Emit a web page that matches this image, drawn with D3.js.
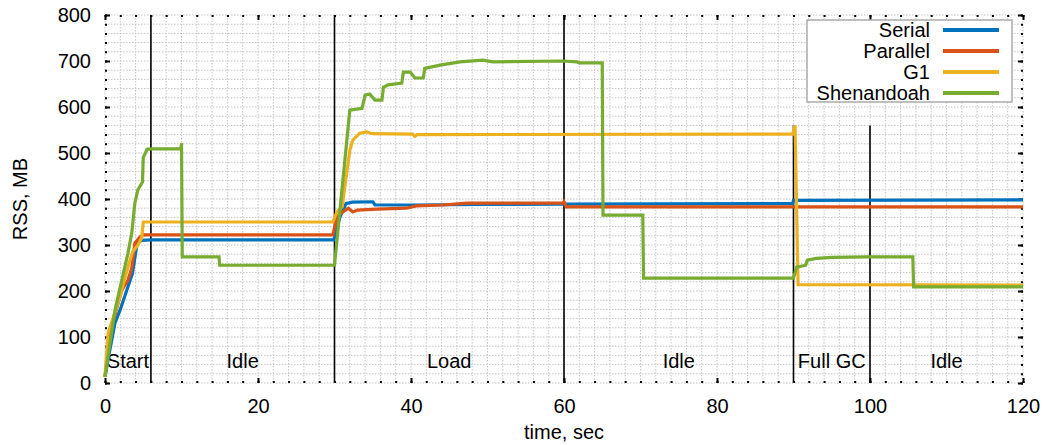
<!DOCTYPE html>
<html>
<head>
<meta charset="utf-8">
<script src="https://cdn.jsdelivr.net/npm/d3@7"></script>
<style>
  body { margin: 0; background: #fff; }
  svg text { font-family: "Liberation Sans", Arial, sans-serif; fill: #000; }
</style>
</head>
<body>
<svg id="chart" width="1046" height="445"></svg>
<script>
// series values: [time sec, RSS MB]
const serial = [
  [0, 14], [0.5, 60], [1.3, 130], [2, 160], [3, 209], [3.6, 239],
  [4.2, 304], [4.8, 310], [6, 311], [20, 311], [29.9, 311],
  [30.7, 360], [31.5, 390], [32.3, 393], [35, 394], [35.3, 387], [40, 387],
  [50, 388], [60, 389], [89.9, 390], [90, 397], [120, 398]
];
const parallel = [
  [0, 14], [0.65, 108], [1.5, 160], [2.2, 202], [3, 224], [3.5, 250],
  [3.9, 304], [4.6, 318], [5, 322], [20, 322], [29.8, 322], [30.3, 361],
  [31.1, 372], [31.8, 380], [32.4, 372], [33, 376], [35.5, 378], [39.4, 380],
  [40.7, 385], [44.2, 387], [47.3, 391], [59.9, 391], [60, 394], [60.3, 383],
  [120, 383]
];
const g1 = [
  [0, 14], [0.4, 108], [1.7, 174], [3, 252], [3.6, 285], [4.3, 300],
  [4.8, 315], [5, 350], [29.8, 350], [30.3, 372], [31, 383],
  [32, 506], [32.4, 528], [33.3, 543], [34.2, 546], [34.9, 542], [40.2, 541],
  [40.5, 536], [40.8, 540], [89.9, 541], [90.2, 560], [90.6, 214], [120, 213]
];
const shenandoah = [
  [0, 13], [1.3, 158], [3, 282], [3.5, 326], [3.9, 391], [4.3, 420],
  [4.9, 437], [5, 490], [5.5, 508], [6, 509], [9.9, 509], [10, 521],
  [10.1, 274], [14.9, 274], [15, 256], [30, 256], [32, 593], [33.6, 597],
  [34, 626], [34.6, 628], [35.3, 615], [36.2, 615], [36.4, 643], [37, 648],
  [38.8, 652], [39, 676], [39.9, 676], [40.5, 663], [41.6, 663], [41.8, 684],
  [43.8, 691], [46.4, 698], [49.4, 702], [50.7, 698], [59.9, 700], [61.7, 698],
  [62, 696], [65, 696], [65.1, 365], [70.3, 365], [70.4, 228], [90, 228],
  [90.4, 252], [91.6, 256], [91.8, 267], [93, 271], [95, 273], [99.6, 274],
  [105.6, 274], [105.7, 209], [120, 209]
];

const seriesNames = ["Serial", "Parallel", "G1", "Shenandoah"];
const seriesColors = ["#0072BD", "#D95319", "#EDB120", "#77AC30"];
const allSeries = [serial, parallel, g1, shenandoah];

// phase markers
const phaseBounds = [6, 30, 60, 90, 100];
const phaseTops = [800, 800, 800, 560, 560];
const phaseEdges = [0, 6, 30, 60, 90, 100, 120];
const phaseNames = ["Start", "Idle", "Load", "Idle", "Full GC", "Idle"];

const xTicks = [0, 20, 40, 60, 80, 100, 120];
const yTicks = [0, 100, 200, 300, 400, 500, 600, 700, 800];

const svg = d3.select("#chart");
const margin = { top: 15, right: 23, bottom: 62, left: 105 },
  width = 1046 - margin.left - margin.right,
  height = 445 - margin.top - margin.bottom;

const x = d3.scaleLinear().domain([0, 120]).range([0, width]);
const y = d3.scaleLinear().domain([0, 800]).range([height, 0]);

const g = svg.append("g")
  .attr("transform", "translate(" + margin.left + "," + margin.top + ")");

// grid (minor every 2 sec / 20 MB)
const xMinor = d3.range(0, 121, 2);
const yMinor = d3.range(0, 801, 20);

g.append("g").attr("class", "grid")
  .selectAll("line.gx")
  .data(xMinor)
  .enter()
  .append("line")
  .attr("x1", d => x(d)).attr("x2", d => x(d))
  .attr("y1", 0).attr("y2", height)
  .attr("stroke", "#c4c4c4")
  .attr("stroke-width", 1)
  .attr("stroke-dasharray", "1.5,1.5");

g.append("g").attr("class", "grid")
  .selectAll("line.gy")
  .data(yMinor)
  .enter()
  .append("line")
  .attr("x1", 0).attr("x2", width)
  .attr("y1", d => y(d)).attr("y2", d => y(d))
  .attr("stroke", "#c4c4c4")
  .attr("stroke-width", 1)
  .attr("stroke-dasharray", "1.5,1.5");

// ticks on all four sides, inward
function tickAxis(axisFn, scale, values, size, translate, labels) {
  const ax = axisFn(scale).tickValues(values).tickSizeInner(-size).tickSizeOuter(0);
  if (!labels) ax.tickFormat("");
  const sel = g.append("g").attr("transform", translate).call(ax);
  sel.select(".domain").remove();
  sel.selectAll(".tick line").attr("stroke", "#000").attr("stroke-width", 2);
  sel.selectAll("text").style("font-size", "20px")
    .style("font-family", "'Liberation Sans', Arial, sans-serif");
  return sel;
}

tickAxis(d3.axisBottom, x, xMinor, 2, "translate(0," + height + ")", false);
tickAxis(d3.axisTop, x, xMinor, 2, "translate(0,0)", false);
tickAxis(d3.axisLeft, y, yMinor, 2, "translate(0,0)", false);
tickAxis(d3.axisRight, y, yMinor, 2, "translate(" + width + ",0)", false);

const xb = tickAxis(d3.axisBottom, x, xTicks, 5, "translate(0," + height + ")", true);
xb.selectAll("text").attr("y", 30).attr("dy", 0);
tickAxis(d3.axisTop, x, xTicks, 5, "translate(0,0)", false);
const yl = tickAxis(d3.axisLeft, y, yTicks, 5, "translate(0,0)", true);
yl.selectAll("text").attr("x", -14);
tickAxis(d3.axisRight, y, yTicks, 5, "translate(" + width + ",0)", false);

// phase boundary lines
g.append("g")
  .selectAll("line")
  .data(phaseBounds)
  .enter()
  .append("line")
  .attr("x1", d => x(d)).attr("x2", d => x(d))
  .attr("y1", (d, i) => y(phaseTops[i]))
  .attr("y2", y(0))
  .attr("stroke", "#000")
  .attr("stroke-width", 1.6);

// phase labels
g.append("g")
  .selectAll("text")
  .data(phaseNames)
  .enter()
  .append("text")
  .attr("x", (d, i) => x((phaseEdges[i] + phaseEdges[i + 1]) / 2))
  .attr("y", height - 15)
  .attr("text-anchor", "middle")
  .style("font-size", "20px")
  .text(d => d);

// series lines
const line = d3.line()
  .x(d => x(d[0]))
  .y(d => y(d[1]));

g.append("g")
  .selectAll("path")
  .data(allSeries)
  .enter()
  .append("path")
  .attr("fill", "none")
  .attr("stroke", (d, i) => seriesColors[i])
  .attr("stroke-width", 3.2)
  .attr("stroke-linejoin", "miter")
  .attr("d", line);

// axis labels
svg.append("text")
  .attr("transform", "translate(27," + (margin.top + height / 2) + ") rotate(-90)")
  .attr("text-anchor", "middle")
  .style("font-size", "20px")
  .text("RSS, MB");

svg.append("text")
  .attr("x", margin.left + x(60))
  .attr("y", 439)
  .attr("text-anchor", "middle")
  .style("font-size", "20px")
  .text("time, sec");

// legend
const legend = svg.append("g").attr("id", "legend");
legend.append("rect")
  .attr("x", 807).attr("y", 20)
  .attr("width", 205).attr("height", 82)
  .attr("fill", "#fff")
  .attr("stroke", "#aaa")
  .attr("stroke-width", 1.5);

const legendEntry = legend.selectAll("g.entry")
  .data(seriesNames)
  .enter()
  .append("g")
  .attr("class", "entry")
  .attr("transform", (d, i) => "translate(0," + (30 + i * 21) + ")");

legendEntry.append("text")
  .attr("x", 930)
  .attr("dy", "0.36em")
  .attr("text-anchor", "end")
  .style("font-size", "20px")
  .text(d => d);

legendEntry.append("line")
  .attr("x1", 943).attr("x2", 999)
  .attr("stroke", (d, i) => seriesColors[i])
  .attr("stroke-width", 4);
</script>
</body>
</html>
